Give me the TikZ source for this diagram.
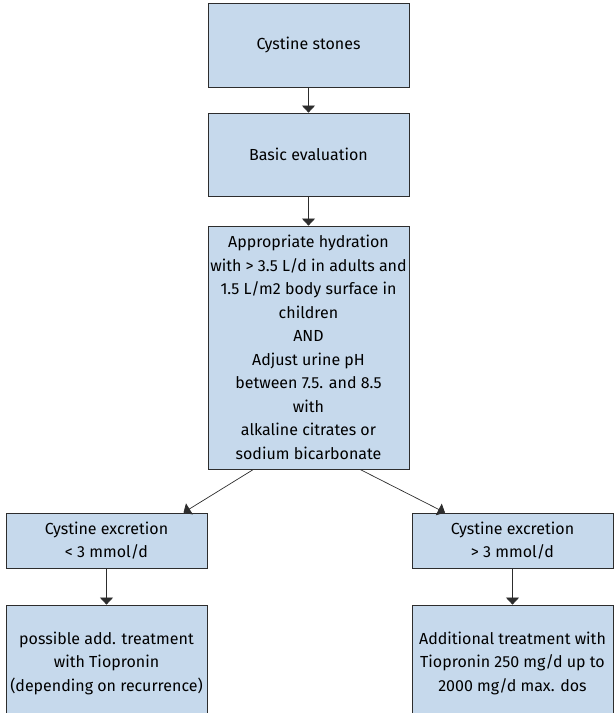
\documentclass[tikz,border=0pt]{standalone}
\usepackage{fontspec}
\setmainfont{Fira Sans}
\usepackage{tikz}
\usetikzlibrary{calc}
\usetikzlibrary{arrows.meta}
\definecolor{boxblue}{RGB}{198,217,236}
\definecolor{edgegray}{RGB}{45,45,45}
\tikzset{
  stepbox/.style={draw=edgegray, line width=0.8pt, fill=boxblue, align=center, minimum width=201pt, inner sep=1pt, font=\fontsize{16}{23.5}\selectfont},
  flow/.style={draw=edgegray, line width=0.7pt, -{Triangle[width=13pt,length=7pt]}}
}

\begin{document}
\begin{tikzpicture}[x=1pt,y=-1pt]
\useasboundingbox (0,0) rectangle (614,713);
\clip (0,0) rectangle (614,713);
% top column
\node[stepbox, minimum height=84pt] (stones) at (308.5,45) {Cystine stones};
\node[stepbox, minimum height=83pt] (basic) at (308.5,154.5) {Basic evaluation};
\node[stepbox, minimum height=243pt] (hydr) at (308.5,347.5) {Appropriate hydration\\with > 3.5 L/d in adults and\\1.5 L/m2 body surface in\\children\\AND\\Adjust urine pH\\between 7.5. and 8.5\\with\\alkaline citrates or\\sodium bicarbonate};
% left branch
\node[stepbox, minimum height=55pt] (low) at (106.5,540.5) {Cystine excretion\\< 3 mmol/d};
\node[stepbox, minimum height=116pt] (tiolow) at (106.5,663) {possible add. treatment\\with Tiopronin\\(depending on recurrence)};
% right branch
\node[stepbox, minimum height=55pt] (high) at (512.5,540.5) {Cystine excretion\\> 3 mmol/d};
\node[stepbox, minimum height=116pt] (tiohigh) at (512.5,663) {Additional treatment with\\Tiopronin 250 mg/d up to\\2000 mg/d max. dos};

\draw[flow] (stones) -- (basic);
\draw[flow] (basic) -- (hydr);
\draw[flow] ($(hydr.south)+(-55,0)$) -- ($(low.north)+(77,0)$);
\draw[flow] ($(hydr.south)+(51.5,0)$) -- ($(high.north)+(-67.5,0)$);
\draw[flow] (low) -- (tiolow);
\draw[flow] (high) -- (tiohigh);

\end{tikzpicture}
\end{document}
